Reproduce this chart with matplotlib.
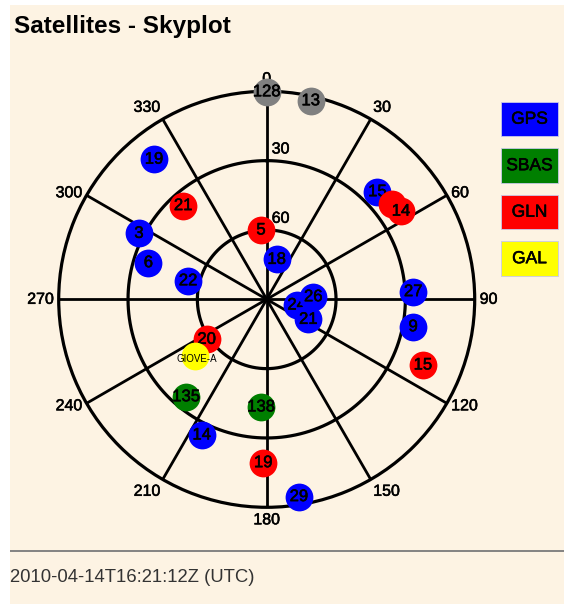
import numpy as np
import matplotlib.pyplot as plt
import matplotlib.patheffects as pe
from matplotlib.patches import Rectangle

plt.rcParams['font.family'] = ['Liberation Sans', 'DejaVu Sans']

# satellites in view: label, system, azimuth (deg), elevation (deg)
prn = ['128', '13', '19', '21', '3', '6', '22', '5', '18', '15', '', '14',
       '27', '9', '15', '24', '26', '21', '20', 'GIOVE-A', '135', '138',
       '14', '19', '29']
system = ['N/A', 'N/A', 'GPS', 'GLN', 'GPS', 'GPS', 'GPS', 'GLN', 'GPS', 'GPS',
          'GLN', 'GLN', 'GPS', 'GPS', 'GLN', 'GPS', 'GPS', 'GPS', 'GLN', 'GAL',
          'SBAS', 'SBAS', 'GPS', 'GLN', 'GPS']
azimuth = [0.0, 12.5, 321.2, 318.3, 297.3, 287.2, 283.3, 355.3, 14.0, 45.8,
           52.8, 56.7, 87.0, 100.6, 112.8, 100.8, 86.8, 115.7, 236.3, 231.7,
           219.6, 183.0, 205.6, 181.2, 170.7]
elevation = [0.2, 2.0, 12.2, 35.7, 27.8, 36.4, 55.1, 59.9, 72.2, 23.2,
             21.8, 20.5, 26.5, 25.5, 16.7, 76.8, 69.8, 70.0, 58.8, 50.5,
             35.3, 43.4, 24.9, 19.3, 3.5]

legend_names = ['GPS', 'SBAS', 'GLN', 'GAL']
colors = {'GPS': '#0000ff', 'SBAS': '#007f00', 'GLN': '#ff0000',
          'GAL': '#ffff00', 'N/A': '#808080'}

az_ticks = np.arange(0, 360, 30)
el_rings = [30, 60]
timestamp = '2010-04-14T16:21:12Z (UTC)'

# slightly heavier strokes for the small labels
heavy = [pe.withStroke(linewidth=0.4, foreground='black')]

W, H = 564, 604
fig = plt.figure(figsize=(W / 100, H / 100), dpi=100, facecolor='white')

# cream page with title, legend and footer, in pixel units
bg = fig.add_axes([10 / W, 0, (W - 10) / W, (H - 5) / H])
bg.set_facecolor('#fdf3e3')
bg.set_xlim(10, W)
bg.set_ylim(H, 5)
bg.set_xticks([])
bg.set_yticks([])
for s in bg.spines.values():
    s.set_visible(False)

bg.text(14, 33, 'Satellites - Skyplot', fontsize=17.5, fontweight='bold',
        ha='left', va='baseline')

for i, name in enumerate(legend_names):
    y0 = 101.7 + i * 46.5
    bg.add_patch(Rectangle((500.7, y0), 57.6, 34.3, facecolor=colors[name],
                           edgecolor='#c8c8e8', lw=0.6))
    bg.text(529.5, y0 + 17.5, name, fontsize=12.5, ha='center', va='center',
            path_effects=heavy)

bg.plot([10, W], [551, 551], color='#7a7a7a', lw=1.3)
bg.text(10, 577, timestamp, fontsize=13.3, color='#333333',
        ha='left', va='center')

# sky plot: north up, azimuth clockwise, radius = 90 - elevation
cx, cy, R = 266.7, 299.3, 208.0
ax = fig.add_axes([(cx - R) / W, (H - cy - R) / H, 2 * R / W, 2 * R / H],
                  projection='polar')
ax.set_theta_zero_location('N')
ax.set_theta_direction(-1)
ax.set_ylim(0, 90)
ax.set_facecolor('none')
ax.grid(False)
ax.set_xticks([])
ax.set_yticks([])
ax.spines['polar'].set_linewidth(2.3)

th = np.linspace(0, 2 * np.pi, 361)
for el in el_rings:
    ax.plot(th, np.full_like(th, 90 - el), color='black', lw=2.3, zorder=2)
for a in az_ticks:
    t = np.deg2rad(a)
    ax.plot([t, t], [0, 90], color='black', lw=2.0, zorder=2)

# azimuth labels just outside the horizon
for a in az_ticks:
    t = np.deg2rad(a)
    s, c = np.sin(t), np.cos(t)
    ha = 'center' if abs(s) < 0.1 else ('left' if s > 0 else 'right')
    va = 'center' if abs(c) < 0.6 else ('bottom' if c > 0 else 'top')
    ax.annotate(str(a), (t, 90), xytext=(s * 3.6, c * 3.6),
                textcoords='offset points', ha=ha, va=va, fontsize=11.5,
                annotation_clip=False, zorder=3, path_effects=heavy)

# elevation labels along the north spoke
for el in el_rings:
    ax.annotate(str(el), (0, 90 - el), xytext=(3.6, 3.0),
                textcoords='offset points', ha='left', va='bottom',
                fontsize=11.5, zorder=3, path_effects=heavy)

z = 4
for p, sysname, a, el in zip(prn, system, azimuth, elevation):
    t = np.deg2rad(a)
    ax.plot(t, 90 - el, 'o', ms=20, mew=0, color=colors[sysname],
            clip_on=False, zorder=z)
    if p == 'GIOVE-A':
        ax.annotate(p, (t, 90 - el), xytext=(1, -2.5),
                    textcoords='offset points', ha='center', va='center',
                    fontsize=7, zorder=z + 1)
    else:
        ax.text(t, 90 - el, p, fontsize=12, ha='center', va='center',
                clip_on=False, zorder=z + 1, path_effects=heavy)
    z += 2

fig.savefig('out.png', dpi=100, facecolor=fig.get_facecolor())
